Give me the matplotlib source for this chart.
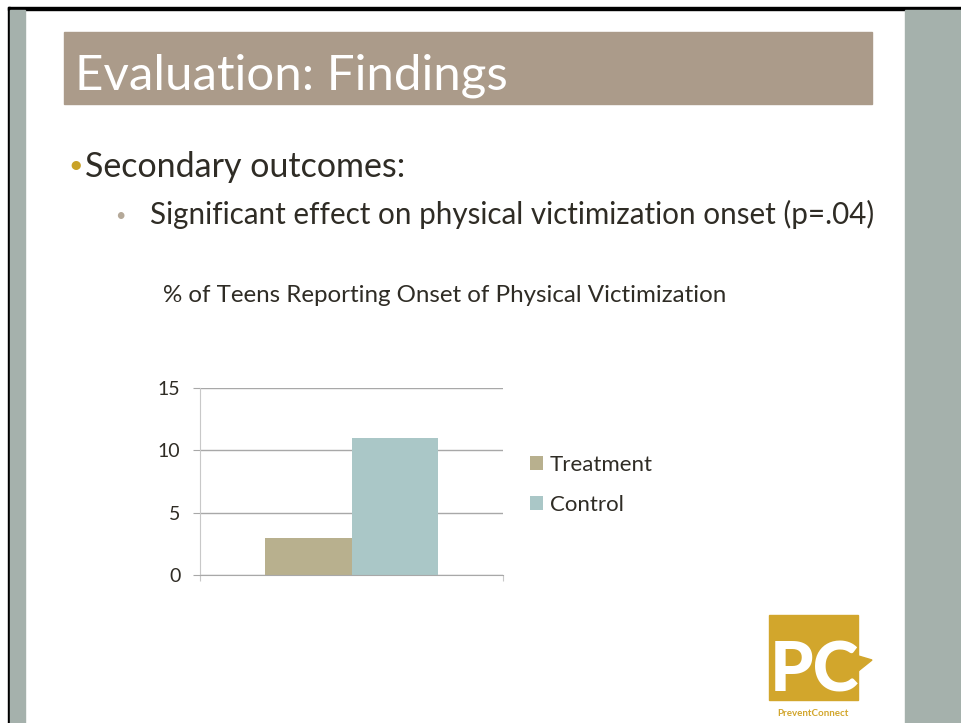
import matplotlib.pyplot as plt
from matplotlib.patches import Rectangle, Polygon

# chart data
groups = ["Treatment", "Control"]
values = [3, 11]
colors = ["#B8B08E", "#AAC7C7"]
yticks = [0, 5, 10, 15]

title = "Evaluation: Findings"
bullet1 = "Secondary outcomes:"
bullet2 = "Significant effect on physical victimization onset (p=.04)"
chart_title = "% of Teens Reporting Onset of Physical Victimization"

text_col = "#2F2C25"
plt.rcParams['font.family'] = ['Lato', 'DejaVu Sans']

fig = plt.figure(figsize=(9.62, 7.23), dpi=100)

# slide background, drawn in pixel coords
bg = fig.add_axes([0, 0, 1, 1], zorder=0)
bg.set_xlim(0, 962)
bg.set_ylim(723, 0)
bg.axis("off")
bg.add_patch(Rectangle((8, 7), 954, 2.5, color="black"))
bg.add_patch(Rectangle((8, 7), 2.5, 716, color="black"))
bg.add_patch(Rectangle((10.5, 9.5), 14.5, 714, color="#A5B1AC"))
bg.add_patch(Rectangle((905, 9.5), 57, 714, color="#A5B1AC"))
bg.add_patch(Rectangle((64, 32), 808, 72, color="#AB9B8A"))
bg.text(75, 89, title, color="white", fontsize=35.5, va="baseline")

bg.text(76, 173, "\u2022", color="#C9A227", fontsize=18, va="baseline", ha="center")
bg.text(85, 177, bullet1, color=text_col, fontsize=24.5, va="baseline")
bg.text(120, 221, "\u2022", color="#B5A999", fontsize=13, va="baseline", ha="center")
bg.text(150, 224, bullet2, color=text_col, fontsize=21.3, va="baseline")
bg.text(445, 302, chart_title, color=text_col, fontsize=17.4, va="baseline", ha="center")

# logo
gold = "#D2A62C"
bg.add_patch(Rectangle((769, 615), 89, 85, color=gold))
bg.add_patch(Polygon([[845, 652], [872, 660], [852, 676]], color=gold))
bg.text(770, 691, "PC", color="white", fontsize=50, fontweight="black", va="baseline")
bg.text(813, 716, "PreventConnect", color=gold, fontsize=7, fontweight="bold", ha="center", va="baseline")

# chart
ax = fig.add_axes([200 / 962, 1 - 575 / 723, 303 / 962, 187 / 723], zorder=1)
ax.patch.set_alpha(0)
w = 0.287
x = [-w / 2, w / 2]
bars = ax.bar(x, values, width=w, color=colors, zorder=2)
ax.set_xlim(-0.5, 0.5)
ax.set_ylim(0, 15)
ax.set_yticks(yticks)
ax.set_xticks([-0.5, 0.5])
ax.set_xticklabels(["", ""])
ax.yaxis.grid(True, color="#A8A8A8", linewidth=1, zorder=0)
ax.set_axisbelow(True)
for s in ["top", "right"]:
    ax.spines[s].set_visible(False)
ax.spines["left"].set_color("#C8C8C8")
ax.spines["bottom"].set_color("#A8A8A8")
ax.tick_params(axis="y", length=5, color="#A8A8A8", labelsize=14, labelcolor=text_col, pad=9)
ax.tick_params(axis="x", length=4.5, color="#C8C8C8")

ax.legend(bars, groups, loc="center left", bbox_to_anchor=(530 / 962, 1 - 485 / 723),
          bbox_transform=fig.transFigure, frameon=False, fontsize=16,
          handlelength=0.6, handleheight=0.6, handletextpad=0.3, labelspacing=0.9,
          borderpad=0, borderaxespad=0, labelcolor=text_col)

fig.savefig("out.png", dpi=100)
